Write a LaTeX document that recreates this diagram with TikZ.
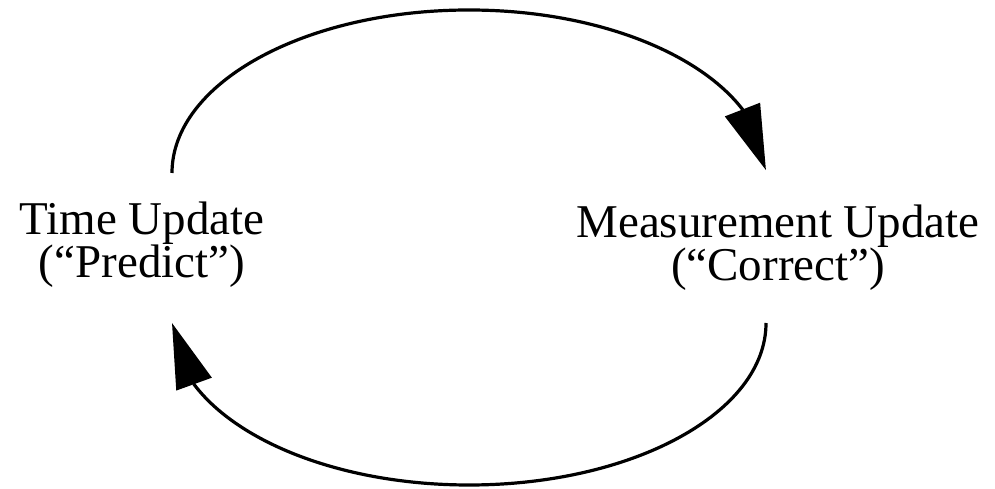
\documentclass[tikz,border=0pt]{standalone}
\usepackage{fontspec}
\setmainfont{Liberation Serif}
\usetikzlibrary{arrows.meta,bending}
\begin{document}
\begin{tikzpicture}[x=1pt,y=1pt,
  lbl/.style={inner sep=0pt, align=center, font=\fontsize{47}{42}\selectfont},
  flow/.style={line width=3.2pt, -{Triangle[length=65pt,width=37pt,flex]}}]
\useasboundingbox[fill=white] (0,0) rectangle (995,489);
\node[lbl, anchor=base] (tu) at (142,211) {Time Update\\(“Predict”)};
\node[lbl, anchor=base] (mu) at (778,208) {Measurement Update\\(“Correct”)};
\coordinate (s1) at (172,316);
\coordinate (s2) at (766,166);
\draw[flow] (s1) arc[start angle=180, end angle=1, x radius=297, y radius=163];
\draw[flow] (s2) arc[start angle=0, end angle=-180, x radius=297, y radius=162];
\end{tikzpicture}
\end{document}
